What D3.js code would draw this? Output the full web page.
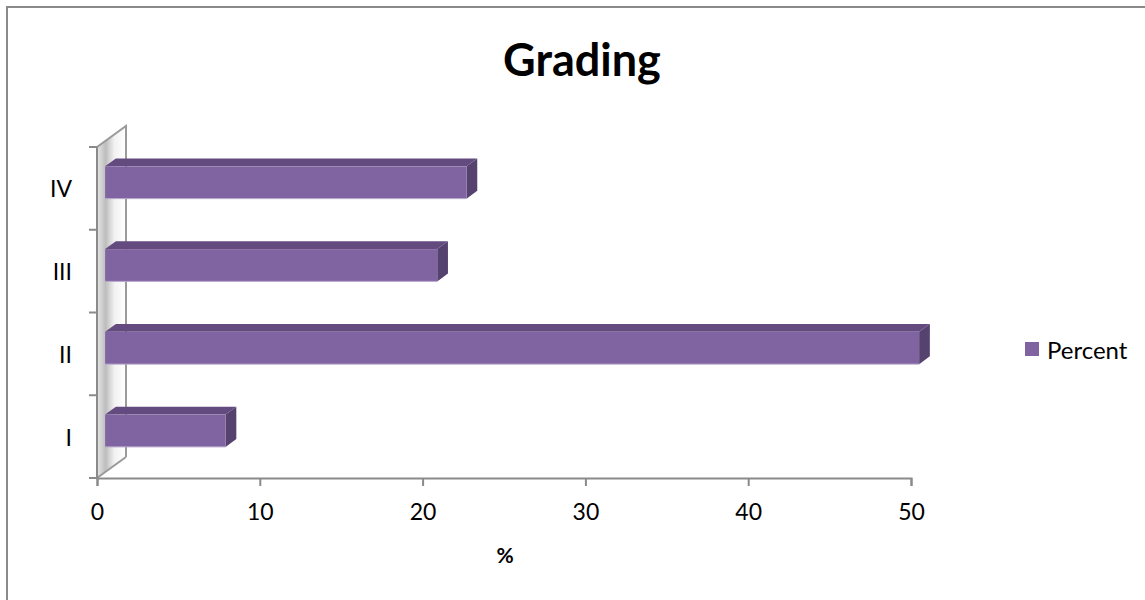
<!DOCTYPE html>
<html><head><meta charset="utf-8">
<script src="https://cdn.jsdelivr.net/npm/d3@7"></script>
<style>body{margin:0;background:#fff}svg{display:block}text{font-family:Lato,"Liberation Sans",sans-serif}</style>
</head><body>
<svg id="c" width="1145" height="600"></svg>
<script>
const categories = ["I", "II", "III", "IV"];
const percentValues = [7.4, 50, 20.4, 22.2];
const xTicks = [0, 10, 20, 30, 40, 50];
const seriesName = "Percent";
const chartTitle = "Grading";
const axisTitle = "%";

const svg = d3.select("#c");
const W = 1145, H = 600;
// outer frame
svg.append("rect").attr("x", 7).attr("y", 7).attr("width", W + 20).attr("height", H + 20)
  .attr("fill", "#fff").attr("stroke", "#8a8a8a").attr("stroke-width", 2);

const x = d3.scaleLinear().domain([0, 50]).range([97, 911]);
const y = d3.scaleBand().domain(categories).range([478, 147]);
const DX = 29, DY = -21;     // depth offset of the wall
const f0 = 0.28, f1 = 0.65;  // bar depth position
const barH = y.bandwidth() * 0.39;

const defs = svg.append("defs");
const g1 = defs.append("linearGradient").attr("id", "wall").attr("x1", 0).attr("x2", 1).attr("y1", 0).attr("y2", 0);
g1.append("stop").attr("offset", "0%").attr("stop-color", "#e6e6e6");
g1.append("stop").attr("offset", "30%").attr("stop-color", "#bdbdbd");
g1.append("stop").attr("offset", "60%").attr("stop-color", "#f2f2f2");
g1.append("stop").attr("offset", "100%").attr("stop-color", "#ffffff");

// side wall
const x0 = x(0), yTop = y.range()[1], yBot = y.range()[0];
svg.append("path")
  .attr("d", `M${x0},${yTop}L${x0 + DX},${yTop + DY}L${x0 + DX},${yBot + DY}L${x0},${yBot}Z`)
  .attr("fill", "url(#wall)").attr("stroke", "none");
svg.append("path")
  .attr("d", `M${x0},${yTop}L${x0 + DX},${yTop + DY}L${x0 + DX},${yBot + DY}M${x0},${yBot}L${x0 + DX},${yBot + DY}`)
  .attr("fill", "none").attr("stroke", "#9a9a9a").attr("stroke-width", 2);
svg.append("line").attr("x1", x0).attr("x2", x0).attr("y1", yTop).attr("y2", yBot)
  .attr("stroke", "#8a8a8a").attr("stroke-width", 2);

// y ticks
const yTickPos = categories.map(c => y(c)).concat([yBot]);
svg.selectAll(".yt").data(yTickPos).enter().append("line")
  .attr("x1", x0 - 8).attr("x2", x0).attr("y1", d => d).attr("y2", d => d)
  .attr("stroke", "#8a8a8a").attr("stroke-width", 2);

// x axis
const xAxis = svg.append("g").attr("transform", `translate(0,${yBot})`)
  .call(d3.axisBottom(x).tickValues(xTicks).tickSize(8).tickPadding(18));
xAxis.select(".domain").attr("stroke", "#8a8a8a").attr("stroke-width", 2);
xAxis.selectAll(".tick line").attr("stroke", "#8a8a8a").attr("stroke-width", 2);
xAxis.selectAll(".tick text").attr("font-size", 23).attr("fill", "#000").attr("font-family", "Lato");

// category labels
svg.selectAll(".cl").data(categories).enter().append("text")
  .attr("x", 72).attr("y", d => y(d) + y.bandwidth() / 2)
  .attr("text-anchor", "end").attr("dominant-baseline", "central")
  .attr("font-size", 23).text(d => d);

// bars
const data = categories.map((c, i) => ({ c, v: percentValues[i] }));
const ddx = DX * (f1 - f0), ddy = DY * (f1 - f0);
const bars = svg.selectAll(".bar").data(data).enter().append("g");
bars.each(function (d) {
  const g = d3.select(this);
  const xs = x(0) + DX * f0, xe = x(d.v) + DX * f0;
  const yc = y(d.c) + y.bandwidth() / 2 + DY * f0;
  const yt = yc - barH / 2, yb = yc + barH / 2;
  g.append("path").attr("d", `M${xs},${yt}L${xe},${yt}L${xe + ddx},${yt + ddy}L${xs + ddx},${yt + ddy}Z`)
    .attr("fill", "#634b80");
  g.append("path").attr("d", `M${xe},${yt}L${xe + ddx},${yt + ddy}L${xe + ddx},${yb + ddy}L${xe},${yb}Z`)
    .attr("fill", "#56426f");
  g.append("rect").attr("x", xs).attr("y", yt).attr("width", xe - xs).attr("height", barH)
    .attr("fill", "#8064a2");
  g.append("line").attr("x1", xs).attr("x2", xe).attr("y1", yb).attr("y2", yb)
    .attr("stroke", "#b8a8cc").attr("stroke-width", 1);
});

// title
svg.append("text").attr("x", 582).attr("y", 76).attr("text-anchor", "middle")
  .attr("font-size", 45).attr("font-weight", "bold").text(chartTitle);
// axis title
svg.append("text").attr("x", 505).attr("y", 563).attr("text-anchor", "middle")
  .attr("font-size", 21).attr("font-weight", "bold").text(axisTitle);

// legend
svg.append("rect").attr("x", 1025).attr("y", 342).attr("width", 14).attr("height", 14).attr("fill", "#8064a2");
svg.append("text").attr("x", 1047).attr("y", 349).attr("dominant-baseline", "central")
  .attr("font-size", 24).text(seriesName);
</script>
</body></html>
